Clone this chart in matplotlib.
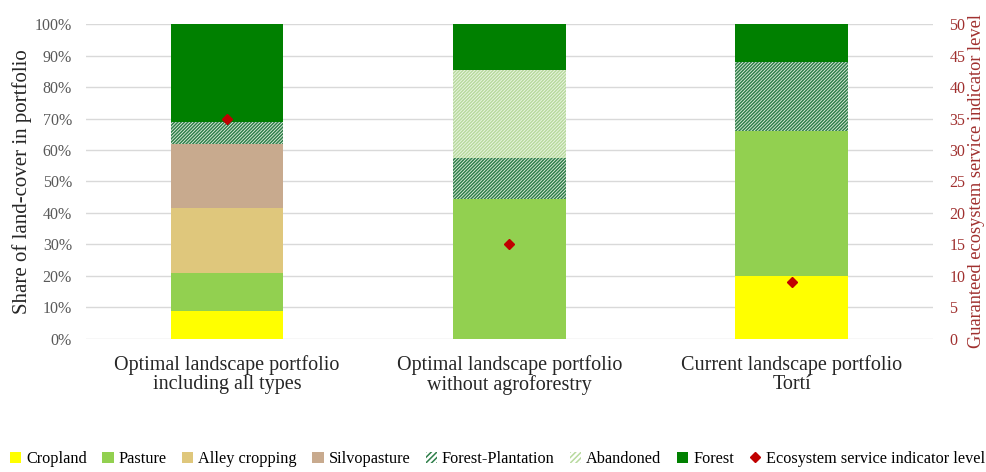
import matplotlib
matplotlib.use("Agg")
import matplotlib.pyplot as plt
import numpy as np
from matplotlib.patches import Patch
from matplotlib.lines import Line2D

plt.rcParams['font.family'] = ['Liberation Serif', 'DejaVu Serif']
plt.rcParams['hatch.linewidth'] = 1.1

categories = ["Optimal landscape portfolio\nincluding all types",
              "Optimal landscape portfolio\nwithout agroforestry",
              "Current landscape portfolio\nTortí"]
cropland = [9, 0, 20]
pasture = [12, 44.5, 46]
alley = [20.5, 0, 0]
silvo = [20.5, 0, 0]
forest_plant = [7, 13, 22]
abandoned = [0, 28, 0]
forest = [31, 14.5, 12]
es_level = [35, 15, 9]

series = [
    ("Cropland", cropland, dict(color="#FFFF00")),
    ("Pasture", pasture, dict(color="#92D050")),
    ("Alley cropping", alley, dict(color="#DFC77C")),
    ("Silvopasture", silvo, dict(color="#C8AA8E")),
    ("Forest-Plantation", forest_plant, dict(facecolor="#E8F2E4", edgecolor="#2F7F4A", hatch="//////////", linewidth=0)),
    ("Abandoned", abandoned, dict(facecolor="#EEF7E8", edgecolor="#B8DA9E", hatch="//////////", linewidth=0)),
    ("Forest", forest, dict(color="#008000")),
]

fig = plt.figure(figsize=(9.87, 4.72), dpi=100)
ax = fig.add_axes([0.087, 0.282, 0.858, 0.667])
x = np.arange(len(categories))
bottom = np.zeros(len(categories))
handles = []
for name, vals, style in series:
    vals = np.array(vals, dtype=float)
    ax.bar(x, vals, 0.4, bottom=bottom, zorder=2, **style)
    bottom += vals
    if 'hatch' in style:
        handles.append(Patch(facecolor="white", edgecolor=style['edgecolor'], hatch="//////", linewidth=0, label=name))
    else:
        handles.append(Patch(facecolor=style['color'], label=name))

ax.set_xlim(-0.5, 2.5)
ax.set_ylim(0, 100)
ax.set_yticks(np.arange(0, 101, 10))
ax.set_yticklabels([f"{v}%" for v in range(0, 101, 10)])
ax.yaxis.grid(True, color="#D9D9D9", linewidth=1, zorder=0)
ax.set_axisbelow(True)
for s in ax.spines.values():
    s.set_visible(False)
ax.tick_params(axis='y', length=0, labelsize=11.5, colors="#595959", pad=10)
ax.tick_params(axis='x', length=0, labelsize=14.5, colors="#262626", pad=12)
ax.set_xticks(x)
ax.set_xticklabels(categories, linespacing=1.0)
ax.set_ylabel("Share of land-cover in portfolio", fontsize=15, color="#262626", labelpad=2)

ax2 = ax.twinx()
ax2.set_ylim(0, 50)
ax2.set_yticks(np.arange(0, 51, 5))
for s in ax2.spines.values():
    s.set_visible(False)
ax2.tick_params(axis='y', length=0, labelsize=11.5, colors="#A0302F", pad=12)
ax2.plot(x, es_level, linestyle='none', marker='D', markersize=5.5, color="#C00000", zorder=5)
ax2.set_ylabel("Guaranteed ecosystem service indicator level", fontsize=13.2, color="#A0302F", labelpad=2)

handles.append(Line2D([], [], linestyle='none', marker='D', markersize=5, color="#C00000",
                      label="Ecosystem service indicator level"))
fig.legend(handles=handles, loc='lower left', bbox_to_anchor=(0.0, -0.01), ncol=8, frameon=False,
           fontsize=11.7, handlelength=0.7, handleheight=0.7, handletextpad=0.3, columnspacing=0.95,
           borderaxespad=0.2)

fig.savefig("out.png", dpi=100)
